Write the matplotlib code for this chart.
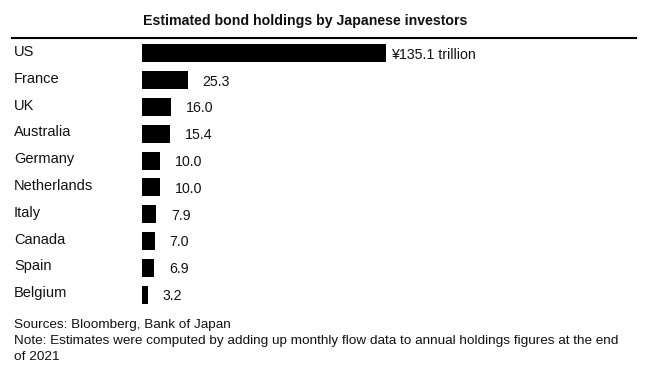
import matplotlib.pyplot as plt
import matplotlib.transforms as mtransforms

plt.rcParams['font.family'] = ['Liberation Sans Narrow', 'Liberation Sans', 'DejaVu Sans']

# Data (yen trillion)
countries = ['US', 'France', 'UK', 'Australia', 'Germany', 'Netherlands',
             'Italy', 'Canada', 'Spain', 'Belgium']
holdings = [135.1, 25.3, 16.0, 15.4, 10.0, 10.0, 7.9, 7.0, 6.9, 3.2]
value_labels = ['¥135.1 trillion', '25.3', '16.0', '15.4', '10.0', '10.0',
                '7.9', '7.0', '6.9', '3.2']

W, H = 646, 374
fig = plt.figure(figsize=(W / 100, H / 100), dpi=100)

# axes placed in pixel terms: x from 142 to 636, y from 40 to 308 (from top)
left, right, top, bottom = 142, 636, 40, 308
ax = fig.add_axes([left / W, 1 - bottom / H, (right - left) / W, (bottom - top) / H])

ypos = list(range(len(countries)))
ax.barh(ypos, holdings, height=0.67, color='black')
ax.set_xlim(0, 135.1 * (right - left) / 244)
ax.set_ylim(len(countries) - 0.5, -0.5)
ax.axis('off')

# category names at the left edge of the figure
lab_trans = mtransforms.blended_transform_factory(fig.transFigure, ax.transData)
for y, name in zip(ypos, countries):
    ax.text(14 / W, y - 0.05, name, transform=lab_trans, ha='left', va='center',
            fontsize=10.5, color='#111111')

# value labels just past each bar
for y, v, lab in zip(ypos, holdings, value_labels):
    gap = 5 if y == 0 else 15
    tr = mtransforms.offset_copy(ax.transData, fig=fig, x=gap, y=0, units='dots')
    ax.text(v, y + 0.05, lab, transform=tr, ha='left', va='center',
            fontsize=10.2, color='#111111')

# title and rule
fig.text(143 / W, 1 - 21 / H, 'Estimated bond holdings by Japanese investors',
         fontsize=10.2, fontweight='bold', ha='left', va='center', color='#111111')
fig.add_artist(plt.Line2D([12 / W, 636 / W], [1 - 38 / H, 1 - 38 / H],
                          color='black', linewidth=1.5))

# footer
fig.text(14 / W, 1 - 325 / H, 'Sources: Bloomberg, Bank of Japan',
         fontsize=9.7, ha='left', va='center', color='#111111')
fig.text(14 / W, 1 - 341 / H,
         'Note: Estimates were computed by adding up monthly flow data to annual holdings figures at the end',
         fontsize=9.7, ha='left', va='center', color='#111111')
fig.text(14 / W, 1 - 357 / H, 'of 2021',
         fontsize=9.7, ha='left', va='center', color='#111111')

fig.savefig('out.png', dpi=100, facecolor='white')
